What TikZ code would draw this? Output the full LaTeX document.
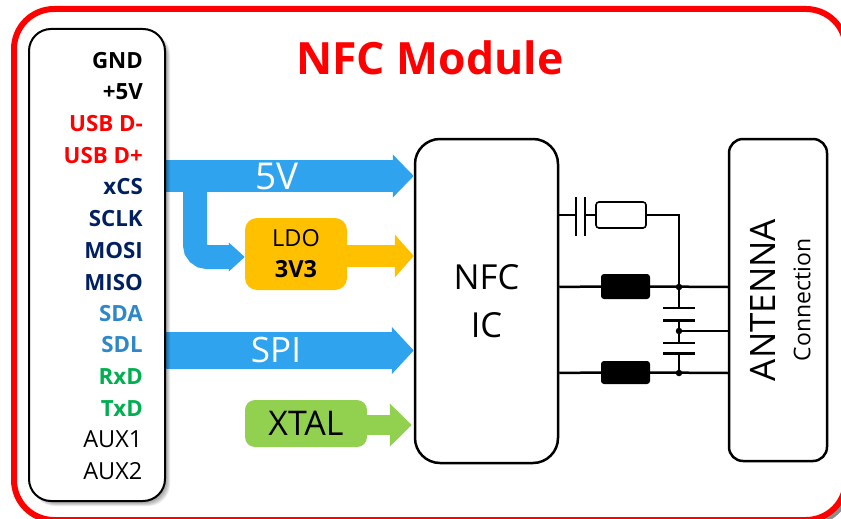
\documentclass[tikz,border=0pt]{standalone}
\usepackage{fontspec}
\setmainfont{Open Sans}
\usetikzlibrary{arrows.meta}
\definecolor{blu}{HTML}{2FA3EE}
\definecolor{amb}{HTML}{FFC000}
\definecolor{grn}{HTML}{92D050}
\definecolor{nav}{HTML}{002060}
\definecolor{sky}{HTML}{2E88C8}
\definecolor{gre}{HTML}{00B050}
\tikzset{
  pinlab/.style={anchor=east,inner sep=0pt,font=\fontsize{22.3}{22}\selectfont\bfseries},
  auxlab/.style={anchor=east,inner sep=0pt,font=\fontsize{23.5}{24}\selectfont},
  box/.style={draw=black,line width=2.5pt,fill=white,inner sep=0pt},
  wire/.style={draw=black,line width=2.5pt},
  plate/.style={draw=black,line width=2.6pt},
  choke/.style={fill=black,rounded corners=3pt},
  jdot/.style={circle,fill=black,inner sep=0pt,minimum size=6.5pt},
}
\begin{document}
\begin{tikzpicture}[x=1pt,y=-1pt]
\useasboundingbox (0,0) rectangle (841,519);
\clip (0,0) rectangle (841,519);
% outer frame, with its shadow showing only at the lower right corner
\begin{scope}
  \clip (815,490) rectangle (841,519);
  \draw[black!45,line width=5.5pt,rounded corners=40pt] (17,12) rectangle (849,523);
\end{scope}
\draw[red,line width=6pt,rounded corners=40pt] (14,9) rectangle (846,520);
\node[text=red,font=\fontsize{44.5}{45}\selectfont\bfseries,inner sep=0pt] (title) at (430,58) {NFC Module};
% main boxes
\node[box,rounded corners=25pt,minimum width=143pt,minimum height=324pt,align=center,font=\fontsize{34.5}{48}\selectfont] (ic) at (486.5,301) {NFC\\IC};
\node[box,rounded corners=14pt,minimum width=98pt,minimum height=322pt] (ant) at (778,300) {};
\node[rotate=90,inner sep=0pt,font=\fontsize{35}{35}\selectfont] (antt) at (763,300) {ANTENNA};
\node[rotate=90,inner sep=0pt,font=\fontsize{23}{23}\selectfont] (antc) at (802,300) {Connection};
\node[fill=amb,rounded corners=12pt,minimum width=102pt,minimum height=72pt,inner sep=0pt,align=center,font=\fontsize{23.5}{31}\selectfont] (ldo) at (296,254) {LDO\\\textbf{3V3}};
\node[fill=grn,rounded corners=10pt,minimum width=122pt,minimum height=47pt,inner sep=0pt,font=\fontsize{34}{34}\selectfont] (xtal) at (306,423.5) {XTAL\hspace{4pt}};
% block arrows
\coordinate (s5) at (160,176);
\coordinate (s3) at (195,176);
\coordinate (sp) at (160,350.5);
\draw[blu,line width=24pt,rounded corners=12pt,-{Triangle[length=16pt,width=28pt]}] (s3) |- (ldo.west |- 0,257);
\draw[blu,line width=32pt,-{Triangle[length=21pt,width=42pt]}] (s5) -- (ic.west |- s5);
\draw[blu,line width=37pt,-{Triangle[length=22pt,width=46pt]}] (sp) -- (ic.west |- sp);
\draw[amb,line width=22pt,-{Triangle[length=19pt,width=42pt]}] (ldo.east |- 0,256) -- (ic.west |- 0,256);
\draw[grn,line width=20pt,shorten >=2pt,-{Triangle[length=22pt,width=42pt]}] (xtal.east |- 0,425) -- (ic.west |- 0,425);
\node[text=white,inner sep=0pt,font=\fontsize{37}{37}\selectfont] (l5) at (277,176) {5V};
\node[text=white,inner sep=0pt,font=\fontsize{35}{35}\selectfont] (lspi) at (276,350) {SPI};
% pin block shadow
\foreach \s in {0,1,2,3,4,5}
  \fill[black,opacity=0.09,rounded corners=22pt] (33,33) rectangle ({165+\s},{501+\s});
\node[box,line width=2pt,rounded corners=22pt,minimum width=136pt,minimum height=472pt] (pins) at (97,265) {};
% pin labels
\foreach \n/\t/\c/\y in {a/GND/black/61,b/+5V/black/92,c/USB D-/red/124,d/USB D+/red/156,e/xCS/nav/187,f/SCLK/nav/219,g/MOSI/nav/251,h/MISO/nav/283,i/SDA/sky/314,j/SDL/sky/345,k/RxD/gre/377,l/TxD/gre/409}
  \node[pinlab,text=\c] (pin\n) at (143,\y) {\t};
\node[auxlab] (pinm) at (142.5,439) {AUX1};
\node[auxlab] (pinn) at (142.5,471) {AUX2};
% circuit
\node[draw=black,line width=1.6pt,fill=white,rounded corners=3pt,minimum width=50pt,minimum height=26pt,inner sep=0pt] (res) at (621,215) {};
\node[choke,minimum width=49pt,minimum height=25pt,inner sep=0pt] (l1) at (625.5,286.5) {};
\node[choke,minimum width=49pt,minimum height=23pt,inner sep=0pt] (l2) at (625.5,372.5) {};
\node[jdot] (j1) at (679,287) {};
\node[jdot] (j2) at (679,331) {};
\node[jdot] (j3) at (679,373) {};
\coordinate (c1a) at (576,215);
\coordinate (c1b) at (585,215);
\coordinate (p1) at (679,308);
\coordinate (p2) at (679,320.5);
\coordinate (p3) at (679,343);
\coordinate (p4) at (679,353.5);
\draw[wire] (ic.east |- c1a) -- (c1a);
\draw[wire] (c1b) -- (res.west);
\draw[wire] (res.east) -| (j1);
\draw[plate] (576,197) -- (576,236);
\draw[plate] (585,197) -- (585,236);
\draw[wire] (ic.east |- j1) -- (l1.west);
\draw[wire] (l1.east) -- (ant.west |- j1);
\draw[wire] (ic.east |- j3) -- (l2.west);
\draw[wire] (l2.east) -- (ant.west |- j3);
\draw[wire] (j1) -- (p1);
\draw[wire] (p2) -- (p3);
\draw[wire] (p4) -- (j3);
\draw[wire] (j2) -- (ant.west |- j2);
\foreach \p in {p1,p2,p3,p4}
  \draw[plate] ([xshift=-16pt]\p) -- ([xshift=16pt]\p);
\end{tikzpicture}
\end{document}
